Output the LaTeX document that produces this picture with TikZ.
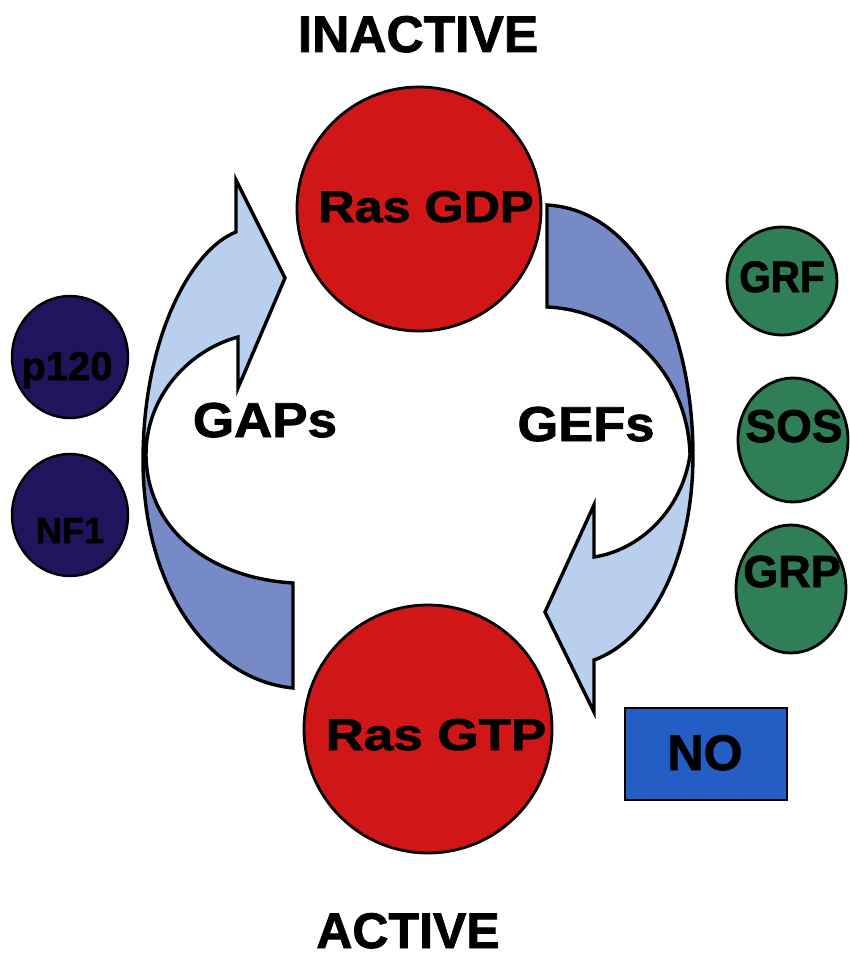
\documentclass[tikz,border=0pt]{standalone}
\usepackage{fontspec}
\setmainfont{Liberation Sans}
\newfontfamily\heavyface{Liberation Sans Bold}[FakeBold=1.6]
\usetikzlibrary{shapes.geometric}

\definecolor{rasred}{RGB}{208,22,22}
\definecolor{gapnavy}{RGB}{34,20,92}
\definecolor{gefgreen}{RGB}{48,126,86}
\definecolor{noblue}{RGB}{36,94,196}
\definecolor{bandlight}{RGB}{184,207,238}
\definecolor{banddark}{RGB}{118,138,200}

% outline of the GAPs arrow (left) and the GEFs arrow (right)
\def\gapsarrow{(293,688) .. controls (210,680) and (143,590) .. (143,460)
  .. controls (143,340) and (190,250) .. (236,232)
  -- (236,180) -- (285,278) -- (238,388) -- (238,337)
  .. controls (190,350) and (146,395) .. (146,455)
  .. controls (147,530) and (210,578) .. (293,583) -- cycle}
\def\gefsarrow{(547,205) .. controls (640,210) and (693,330) .. (693,455)
  .. controls (693,560) and (650,640) .. (594,660)
  -- (594,712) -- (545,612) -- (594,505) -- (594,557)
  .. controls (640,550) and (682,510) .. (690,455)
  .. controls (688,370) and (620,310) .. (547,307) -- cycle}

\newcommand{\lbl}[2]{\fontsize{#1pt}{#1pt}\selectfont\heavyface #2}

\begin{document}
\begin{tikzpicture}[x=1pt,y=-1pt,
  outline/.style={draw=black, line width=3.4pt, line join=miter},
  ras/.style={circle, draw=black, line width=2.8pt, fill=rasred,
    minimum size=#1, inner sep=0pt},
  gapdisc/.style={ellipse, draw=black, line width=2.4pt, fill=gapnavy,
    minimum width=116pt, minimum height=122pt, inner sep=0pt},
  gefdisc/.style={ellipse, draw=black, line width=2.8pt, fill=gefgreen,
    minimum width=110pt, minimum height=#1, inner sep=0pt},
  txt/.style={inner sep=0pt, anchor=base, text=black}]

\useasboundingbox (0,0) rectangle (850,960);

% GAPs arrow: light upper half, darker lower half
\path[fill=bandlight] \gapsarrow;
\begin{scope}
  \clip (0,452) rectangle (850,960);
  \path[fill=banddark] \gapsarrow;
\end{scope}
\path[outline] \gapsarrow;

% GEFs arrow: darker upper half, light lower half
\path[fill=bandlight] \gefsarrow;
\begin{scope}
  \clip (0,0) rectangle (850,452);
  \path[fill=banddark] \gefsarrow;
\end{scope}
\path[outline] \gefsarrow;

% Ras states
\node[ras=244pt] (gdp) at (419,209) {};
\node[ras=248pt] (gtp) at (428,729) {};
\node[txt] (gdplbl) at (426,222) {\lbl{44.5}{\scalebox{1.13}[1]{Ras GDP}}};
\node[txt] (gtplbl) at (436,750) {\lbl{44.5}{\scalebox{1.19}[1]{Ras GTP}}};

\node[txt] (inactive) at (418,52) {\lbl{51.5}{INACTIVE}};
\node[txt] (active) at (408,948) {\lbl{50}{ACTIVE}};

\node[txt] (gaps) at (265,437) {\lbl{49}{\scalebox{1.08}[1]{GAPs}}};
\node[txt] (gefs) at (586,441) {\lbl{49}{\scalebox{1.07}[1]{GEFs}}};

% GTPase activating proteins
\node[gapdisc] (p120) at (70,357) {};
\node[gapdisc] (nf1) at (70,515) {};
\node[txt] (p120lbl) at (67,380) {\lbl{40}{p120}};
\node[txt] (nf1lbl) at (70,543) {\lbl{36}{NF1}};

% exchange factors
\node[gefdisc=108pt] (grf) at (782,281) {};
\node[gefdisc=124pt] (sos) at (793,440) {};
\node[gefdisc=128pt] (grp) at (791,589) {};
\node[txt] (grflbl) at (782,292) {\lbl{44}{\scalebox{0.92}[1]{GRF}}};
\node[txt] (soslbl) at (794,442) {\lbl{46}{SOS}};
\node[txt] (grplbl) at (792,587) {\lbl{45}{GRP}};

\node[draw=black, line width=2.4pt, fill=noblue, minimum width=162pt,
  minimum height=92pt, inner sep=0pt] (no) at (706,754) {};
\node[txt] (nolbl) at (705,770) {\lbl{50}{NO}};

\end{tikzpicture}
\end{document}
